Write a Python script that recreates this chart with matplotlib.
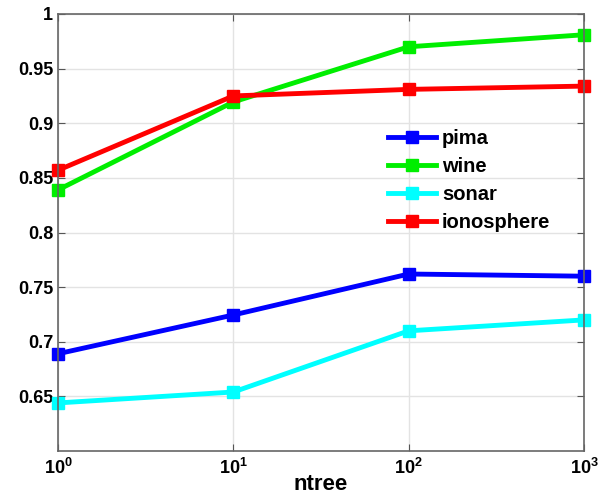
import matplotlib
matplotlib.use('Agg')
import matplotlib.pyplot as plt
import numpy as np

plt.rcParams['font.family'] = 'Liberation Sans'
plt.rcParams['font.weight'] = 'bold'

ntree = [1, 10, 100, 1000]
pima = [0.689, 0.7245, 0.762, 0.760]
wine = [0.839, 0.9195, 0.970, 0.981]
sonar = [0.644, 0.654, 0.710, 0.720]
ionosphere = [0.857, 0.925, 0.931, 0.934]

series = [('pima', pima, '#0000ff'), ('wine', wine, '#00ee00'),
          ('sonar', sonar, '#00ffff'), ('ionosphere', ionosphere, '#ff0000')]

fig = plt.figure(figsize=(6.06, 5.0), dpi=100)
ax = fig.add_axes([0.0957, 0.098, 0.868, 0.874])

for name, vals, col in series:
    ax.plot(ntree, vals, color=col, lw=3.5, marker='s', ms=8, label=name, clip_on=False)

ax.set_xscale('log')
ax.set_xlim(1, 1000)
ax.set_ylim(0.6, 1.0)
ax.set_yticks([0.65, 0.7, 0.75, 0.8, 0.85, 0.9, 0.95, 1.0])
ax.set_yticklabels(['0.65', '0.7', '0.75', '0.8', '0.85', '0.9', '0.95', '1'])
ax.set_xticks(ntree)
ax.minorticks_off()
ax.grid(True, color='#e3e3e3', lw=1)
ax.set_axisbelow(True)
ax.tick_params(direction='in', top=True, right=True, labelsize=13, color='#555555', length=5)
ax.tick_params(axis='x', pad=5)
for s in ax.spines.values():
    s.set_color('#666666')
    s.set_linewidth(1.2)
for lab in ax.get_xticklabels() + ax.get_yticklabels():
    lab.set_fontweight('bold')
ax.set_xlabel('ntree', fontsize=16, fontweight='bold', labelpad=-3)

leg = ax.legend(loc='upper left', bbox_to_anchor=(0.6, 0.77), frameon=False,
                fontsize=14.5, handlelength=2.4, labelspacing=0.45, borderpad=0.2,
                handletextpad=0.3)
for t in leg.get_texts():
    t.set_fontweight('bold')

fig.savefig('out.png', dpi=100)
